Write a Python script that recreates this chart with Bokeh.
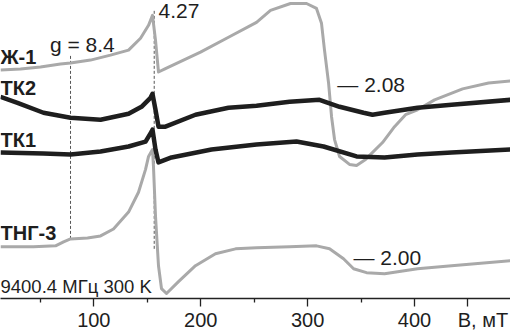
from bokeh.plotting import figure
from bokeh.models import Range1d, LinearAxis, FixedTicker, Label
from bokeh.embed import file_html
from bokeh.resources import INLINE

# ---- data (field B in mT, intensity in arbitrary units, offset per trace) ----
zh1_B = [12.7, 31.4, 50.1, 68.8, 78.2, 96.9, 115.6, 132.5, 143.7, 151.2, 154.9, 157.7, 160.5,
         167.0, 199.8, 226.0, 252.2, 265.3, 284.0, 299.0, 308.3, 313.0, 315.8, 319.6, 322.4,
         325.2, 329.9, 339.2, 345.8, 354.2, 370.1, 381.3, 391.6, 402.8, 418.8, 445.0, 469.3, 489.8]
zh1_I = [230, 231, 233, 236, 237, 240, 245, 250, 262, 275, 285, 260, 228,
         231.5, 248, 263, 278, 290, 297, 297, 292, 277, 250, 217, 183,
         160, 143, 135, 134, 140, 157, 173, 185, 190, 200, 211, 217, 219]

tk2_B = [12.7, 28.6, 52.9, 78.2, 106.3, 132.5, 144.6, 153.0, 154.9, 157.7, 160.5, 167.0,
         195.1, 226.0, 252.2, 283.1, 311.1, 329.9, 352.3, 360.7, 372.0, 402.8, 434.7, 489.8]
tk2_I = [203, 197, 187, 182, 180, 186, 193, 202, 206, 190, 173, 173,
         185, 192, 194, 198, 200, 193, 187, 185, 187, 192, 195, 200]

tk1_B = [12.7, 52.9, 78.2, 106.3, 132.5, 148.4, 154.0, 154.9, 157.7, 160.5, 172.7, 210.1,
         252.2, 289.6, 314.9, 345.8, 372.0, 402.8, 434.7, 489.8]
tk1_I = [147, 146, 145, 148, 153, 158, 168, 170, 150, 137, 142, 150,
         155, 158, 153, 143, 142, 145, 147, 150]

tng3_B = [12.7, 43.6, 64.2, 71.7, 78.2, 94.1, 106.3, 118.4, 132.5, 141.8, 148.4, 151.2, 154.9,
          155.8, 157.7, 160.5, 163.3, 168.0, 179.2, 195.1, 213.8, 232.6, 252.2, 283.1, 308.3,
          320.5, 333.6, 343.0, 355.1, 372.0, 402.8, 434.7, 489.8]
tng3_I = [52, 52, 53, 57, 60, 61, 63, 70, 87, 107, 130, 143, 150,
          133, 83, 33, 10, 5, 17, 33, 45, 50, 51, 52, 53,
          50, 40, 30, 26, 25, 30, 33, 38]

marker_B = [78.2, 156.5]
marker_top = [245, 290]
marker_bottom = [60, 50]

major_ticks = [100, 200, 300, 400, 450]
minor_ticks = [50, 150, 250, 350]
tick_labels = {450: "\u2003\u2002В, мТ"}

sample_labels = ["Ж-1", "ТК2", "ТК1", "ТНГ-3"]
sample_label_I = [243, 212, 160, 66]

g_labels = ["g = 8.4", "4.27", "— 2.08", "— 2.00"]
g_label_B = [59.0, 160.5, 327.8, 342.9]
g_label_I = [256, 289, 215, 41]

info_text = "9400.4 МГц 300 K"

GRAY = "#a9a9a9"
BLACK = "#1e1e1e"
TEXT = "#1e1e1e"
FONT = "Liberation Sans"

p = figure(width=510, height=333, x_range=Range1d(12.7, 489.8), y_range=Range1d(0, 300),
           toolbar_location=None, output_backend="svg", x_axis_type=None, y_axis_type=None,
           min_border_left=0, min_border_right=0, min_border_top=0, min_border_bottom=0)
p.outline_line_color = None
p.xgrid.visible = False
p.ygrid.visible = False
p.background_fill_color = "white"

# dashed markers
p.segment(x0=marker_B, y0=marker_bottom, x1=marker_B, y1=marker_top,
          line_color="#555555", line_width=1, line_dash="3 2")

p.line(zh1_B, zh1_I, line_color=GRAY, line_width=3, line_join="round")
p.line(tng3_B, tng3_I, line_color=GRAY, line_width=3, line_join="round")
p.line(tk2_B, tk2_I, line_color=BLACK, line_width=4.5, line_join="round")
p.line(tk1_B, tk1_I, line_color=BLACK, line_width=4.5, line_join="round")

ax = LinearAxis(ticker=FixedTicker(ticks=major_ticks, minor_ticks=minor_ticks))
ax.major_label_overrides = tick_labels
ax.axis_line_color = "#222222"
ax.axis_line_width = 1.3
ax.major_tick_line_color = "#222222"
ax.major_tick_line_width = 1.3
ax.minor_tick_line_color = "#222222"
ax.minor_tick_line_width = 1.3
ax.major_tick_in = 0
ax.major_tick_out = 8
ax.minor_tick_in = 0
ax.minor_tick_out = 4
ax.major_label_standoff = 2
ax.major_label_text_font = FONT
ax.major_label_text_font_size = "20px"
ax.major_label_text_color = TEXT
p.add_layout(ax, "below")

for t, yv in zip(sample_labels, sample_label_I):
    p.add_layout(Label(x=12.7, y=yv, text=t, text_font=FONT, text_font_size="20px",
                       text_font_style="bold", text_color=TEXT, text_baseline="middle",
                       text_align="left"))

for t, xv, yv in zip(g_labels, g_label_B, g_label_I):
    p.add_layout(Label(x=xv, y=yv, text=t, text_font=FONT, text_font_size="21px",
                       text_color=TEXT, text_baseline="middle", text_align="left"))

p.add_layout(Label(x=12.7, y=12.5, text=info_text, text_font=FONT, text_font_size="18.5px",
                   text_color=TEXT, text_baseline="middle", text_align="left"))

open("out.html", "w").write(file_html(p, INLINE))
